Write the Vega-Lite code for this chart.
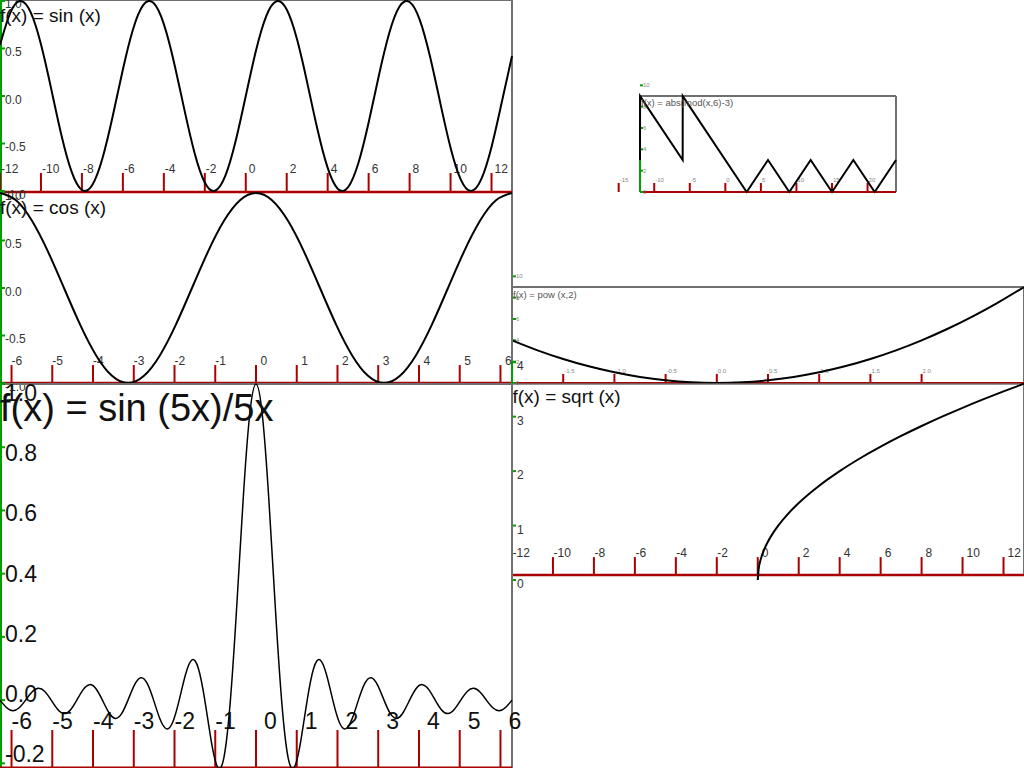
{
"$schema": "https://vega.github.io/schema/vega-lite/v6.json",
"width": 1024, "height": 768, "padding": 0, "autosize": {"type": "none"},
"background": "white",
"config": {"view": {"stroke": null}, "font": "Liberation Sans"},
"data": {"values": [{}]},
"datasets": {
"sin": [{"x":-12,"y":0.5366},{"x":-11.5,"y":0.8755},{"x":-11,"y":1.0},{"x":-10.5,"y":0.8797},{"x":-10,"y":0.544},{"x":-9.5,"y":0.0752},{"x":-9,"y":-0.4121},{"x":-8.5,"y":-0.7985},{"x":-8,"y":-0.9894},{"x":-7.5,"y":-0.938},{"x":-7,"y":-0.657},{"x":-6.5,"y":-0.2151},{"x":-6,"y":0.2794},{"x":-5.5,"y":0.7055},{"x":-5,"y":0.9589},{"x":-4.5,"y":0.9775},{"x":-4,"y":0.7568},{"x":-3.5,"y":0.3508},{"x":-3,"y":-0.1411},{"x":-2.5,"y":-0.5985},{"x":-2,"y":-0.9093},{"x":-1.5,"y":-0.9975},{"x":-1,"y":-0.8415},{"x":-0.5,"y":-0.4794},{"x":0,"y":0},{"x":0.5,"y":0.4794},{"x":1,"y":0.8415},{"x":1.5,"y":0.9975},{"x":2,"y":0.9093},{"x":2.5,"y":0.5985},{"x":3,"y":0.1411},{"x":3.5,"y":-0.3508},{"x":4,"y":-0.7568},{"x":4.5,"y":-0.9775},{"x":5,"y":-0.9589},{"x":5.5,"y":-0.7055},{"x":6,"y":-0.2794},{"x":6.5,"y":0.2151},{"x":7,"y":0.657},{"x":7.5,"y":0.938},{"x":8,"y":0.9894},{"x":8.5,"y":0.7985},{"x":9,"y":0.4121},{"x":9.5,"y":-0.0752},{"x":10,"y":-0.544},{"x":10.5,"y":-0.8797},{"x":11,"y":-1.0},{"x":11.5,"y":-0.8755},{"x":12,"y":-0.5366},{"x":12.5,"y":-0.0663},{"x":13,"y":0.4202}],
"cos": [{"x":-6.2832,"y":1},{"x":-5.8905,"y":0.9239},{"x":-5.4978,"y":0.7071},{"x":-5.1051,"y":0.3827},{"x":-4.7124,"y":0},{"x":-4.3197,"y":-0.3827},{"x":-3.927,"y":-0.7071},{"x":-3.5343,"y":-0.9239},{"x":-3.1416,"y":-1},{"x":-2.7489,"y":-0.9239},{"x":-2.3562,"y":-0.7071},{"x":-1.9635,"y":-0.3827},{"x":-1.5708,"y":0},{"x":-1.1781,"y":0.3827},{"x":-0.7854,"y":0.7071},{"x":-0.3927,"y":0.9239},{"x":0,"y":1},{"x":0.3927,"y":0.9239},{"x":0.7854,"y":0.7071},{"x":1.1781,"y":0.3827},{"x":1.5708,"y":0},{"x":1.9635,"y":-0.3827},{"x":2.3562,"y":-0.7071},{"x":2.7489,"y":-0.9239},{"x":3.1416,"y":-1},{"x":3.5343,"y":-0.9239},{"x":3.927,"y":-0.7071},{"x":4.3197,"y":-0.3827},{"x":4.7124,"y":0},{"x":5.1051,"y":0.3827},{"x":5.4978,"y":0.7071},{"x":5.8905,"y":0.9239},{"x":6.2832,"y":1}],
"sinc": [{"x":-6.2832,"y":0},{"x":-6.1261,"y":-0.0231},{"x":-5.969,"y":-0.0335},{"x":-5.8119,"y":-0.0243},{"x":-5.6549,"y":0},{"x":-5.4978,"y":0.0257},{"x":-5.3407,"y":0.0374},{"x":-5.1836,"y":0.0273},{"x":-5.0265,"y":0},{"x":-4.8695,"y":-0.029},{"x":-4.7124,"y":-0.0424},{"x":-4.5553,"y":-0.031},{"x":-4.3982,"y":0},{"x":-4.2412,"y":0.0333},{"x":-4.0841,"y":0.049},{"x":-3.927,"y":0.036},{"x":-3.7699,"y":0},{"x":-3.6128,"y":-0.0391},{"x":-3.4558,"y":-0.0579},{"x":-3.2987,"y":-0.0429},{"x":-3.1416,"y":0},{"x":-2.9845,"y":0.0474},{"x":-2.8274,"y":0.0707},{"x":-2.6704,"y":0.053},{"x":-2.5133,"y":0},{"x":-2.3562,"y":-0.06},{"x":-2.1991,"y":-0.0909},{"x":-2.042,"y":-0.0693},{"x":-1.885,"y":0},{"x":-1.7279,"y":0.0818},{"x":-1.5708,"y":0.1273},{"x":-1.4137,"y":0.1},{"x":-1.2566,"y":0},{"x":-1.0996,"y":-0.1286},{"x":-0.9425,"y":-0.2122},{"x":-0.7854,"y":-0.1801},{"x":-0.6283,"y":0},{"x":-0.4712,"y":0.3001},{"x":-0.3142,"y":0.6366},{"x":-0.1571,"y":0.9003},{"x":0,"y":1},{"x":0.1571,"y":0.9003},{"x":0.3142,"y":0.6366},{"x":0.4712,"y":0.3001},{"x":0.6283,"y":0},{"x":0.7854,"y":-0.1801},{"x":0.9425,"y":-0.2122},{"x":1.0996,"y":-0.1286},{"x":1.2566,"y":0},{"x":1.4137,"y":0.1},{"x":1.5708,"y":0.1273},{"x":1.7279,"y":0.0818},{"x":1.885,"y":0},{"x":2.042,"y":-0.0693},{"x":2.1991,"y":-0.0909},{"x":2.3562,"y":-0.06},{"x":2.5133,"y":0},{"x":2.6704,"y":0.053},{"x":2.8274,"y":0.0707},{"x":2.9845,"y":0.0474},{"x":3.1416,"y":0},{"x":3.2987,"y":-0.0429},{"x":3.4558,"y":-0.0579},{"x":3.6128,"y":-0.0391},{"x":3.7699,"y":0},{"x":3.927,"y":0.036},{"x":4.0841,"y":0.049},{"x":4.2412,"y":0.0333},{"x":4.3982,"y":0},{"x":4.5553,"y":-0.031},{"x":4.7124,"y":-0.0424},{"x":4.8695,"y":-0.029},{"x":5.0265,"y":0},{"x":5.1836,"y":0.0273},{"x":5.3407,"y":0.0374},{"x":5.4978,"y":0.0257},{"x":5.6549,"y":0},{"x":5.8119,"y":-0.0243},{"x":5.969,"y":-0.0335},{"x":6.1261,"y":-0.0231},{"x":6.2832,"y":0}],
"abs": [{"x":-12,"y":3},{"x":-11.99,"y":8.99},{"x":-6,"y":3},{"x":-5.99,"y":8.99},{"x":3,"y":0},{"x":6,"y":3},{"x":9,"y":0},{"x":12,"y":3},{"x":15,"y":0},{"x":18,"y":3},{"x":21,"y":0},{"x":24,"y":3}],
"pow": [{"x":-2,"y":4},{"x":-1.75,"y":3.0625},{"x":-1.5,"y":2.25},{"x":-1.25,"y":1.5625},{"x":-1,"y":1},{"x":-0.75,"y":0.5625},{"x":-0.5,"y":0.25},{"x":-0.25,"y":0.0625},{"x":0,"y":0},{"x":0.25,"y":0.0625},{"x":0.5,"y":0.25},{"x":0.75,"y":0.5625},{"x":1,"y":1},{"x":1.25,"y":1.5625},{"x":1.5,"y":2.25},{"x":1.75,"y":3.0625},{"x":2,"y":4},{"x":2.25,"y":5.0625},{"x":2.5,"y":6.25},{"x":2.75,"y":7.5625},{"x":3,"y":9}],
"sqrt": [{"x":0,"y":0},{"x":0.05,"y":0.2236},{"x":0.1,"y":0.3162},{"x":0.2,"y":0.4472},{"x":0.35,"y":0.5916},{"x":0.5,"y":0.7071},{"x":0.75,"y":0.866},{"x":1,"y":1},{"x":1.5,"y":1.2247},{"x":2,"y":1.4142},{"x":3,"y":1.7321},{"x":4,"y":2},{"x":5,"y":2.2361},{"x":6,"y":2.4495},{"x":7,"y":2.6458},{"x":8,"y":2.8284},{"x":9,"y":3},{"x":10,"y":3.1623},{"x":11,"y":3.3166},{"x":12,"y":3.4641},{"x":13,"y":3.6056}],
"xt12": [{"v":-12,"label":"-12"},{"v":-10,"label":"-10"},{"v":-8,"label":"-8"},{"v":-6,"label":"-6"},{"v":-4,"label":"-4"},{"v":-2,"label":"-2"},{"v":0,"label":"0"},{"v":2,"label":"2"},{"v":4,"label":"4"},{"v":6,"label":"6"},{"v":8,"label":"8"},{"v":10,"label":"10"},{"v":12,"label":"12"}],
"xt6": [{"v":-6,"label":"-6"},{"v":-5,"label":"-5"},{"v":-4,"label":"-4"},{"v":-3,"label":"-3"},{"v":-2,"label":"-2"},{"v":-1,"label":"-1"},{"v":0,"label":"0"},{"v":1,"label":"1"},{"v":2,"label":"2"},{"v":3,"label":"3"},{"v":4,"label":"4"},{"v":5,"label":"5"},{"v":6,"label":"6"}],
"yt1": [{"v":-1,"label":"-1.0"},{"v":-0.5,"label":"-0.5"},{"v":0,"label":"0.0"},{"v":0.5,"label":"0.5"},{"v":1,"label":"1.0"}],
"ytSinc": [{"v":-0.2,"label":"-0.2"},{"v":0,"label":"0.0"},{"v":0.2,"label":"0.2"},{"v":0.4,"label":"0.4"},{"v":0.6,"label":"0.6"},{"v":0.8,"label":"0.8"},{"v":1,"label":"1.0"}],
"xtAbs": [{"v":-15,"label":"-15"},{"v":-10,"label":"-10"},{"v":-5,"label":"-5"},{"v":0,"label":"0"},{"v":5,"label":"5"},{"v":10,"label":"10"},{"v":15,"label":"15"},{"v":20,"label":"20"}],
"yt10": [{"v":0,"label":"0"},{"v":2,"label":"2"},{"v":4,"label":"4"},{"v":6,"label":"6"},{"v":8,"label":"8"},{"v":10,"label":"10"}],
"xtPow": [{"v":-1.5,"label":"-1.5"},{"v":-1,"label":"-1.0"},{"v":-0.5,"label":"-0.5"},{"v":0,"label":"0.0"},{"v":0.5,"label":"0.5"},{"v":1,"label":"1.0"},{"v":1.5,"label":"1.5"},{"v":2,"label":"2.0"}],
"ytSqrt": [{"v":0,"label":"0"},{"v":1,"label":"1"},{"v":2,"label":"2"},{"v":3,"label":"3"},{"v":4,"label":"4"}]
},
"resolve": {"scale": {"x": "independent", "y": "independent"}},
"layer": [
{"mark":{"type":"rule","color":"#707070","strokeWidth":2},"encoding":{"x":{"datum":-12,"type":"quantitative","scale":{"domain":[-12,24],"range":[640,896]},"axis":null},"x2":{"datum":24},"y":{"datum":9,"type":"quantitative","scale":{"domain":[0,9],"range":[192,96]},"axis":null}}},
{"mark":{"type":"rule","color":"#707070","strokeWidth":2},"encoding":{"x":{"datum":24,"type":"quantitative","scale":{"domain":[-12,24],"range":[640,896]},"axis":null},"y":{"datum":0,"type":"quantitative","scale":{"domain":[0,9],"range":[192,96]},"axis":null},"y2":{"datum":9}}},
{"mark":{"type":"rule","color":"#00a000","strokeWidth":2},"encoding":{"x":{"datum":-12,"type":"quantitative","scale":{"domain":[-12,24],"range":[640,896]},"axis":null},"y":{"datum":0,"type":"quantitative","scale":{"domain":[0,9],"range":[192,96]},"axis":null},"y2":{"datum":9}}},
{"mark":{"type":"rule","color":"#aa0000","strokeWidth":2},"encoding":{"x":{"datum":-12,"type":"quantitative","scale":{"domain":[-12,24],"range":[640,896]},"axis":null},"x2":{"datum":24},"y":{"datum":0,"type":"quantitative","scale":{"domain":[0,9],"range":[192,96]},"axis":null}}},
{"data":{"name":"xtAbs"},"mark":{"type":"rule","color":"#aa0000","strokeWidth":2,"y2Offset":-9},"encoding":{"x":{"field":"v","type":"quantitative","scale":{"domain":[-12,24],"range":[640,896]},"axis":null},"y":{"datum":0,"type":"quantitative","scale":{"domain":[0,9],"range":[192,96]},"axis":null},"y2":{"datum":0}}},
{"data":{"name":"xtAbs"},"mark":{"type":"text","align":"left","baseline":"alphabetic","dx":1,"dy":-10,"fontSize":6,"color":"#888888"},"encoding":{"x":{"field":"v","type":"quantitative","scale":{"domain":[-12,24],"range":[640,896]},"axis":null},"y":{"datum":0,"type":"quantitative","scale":{"domain":[0,9],"range":[192,96]},"axis":null},"text":{"field":"label"}}},
{"data":{"name":"yt10"},"mark":{"type":"rule","color":"#00a000","strokeWidth":2,"x2Offset":3},"encoding":{"y":{"field":"v","type":"quantitative","scale":{"domain":[0,9],"range":[192,96]},"axis":null},"x":{"datum":-12,"type":"quantitative","scale":{"domain":[-12,24],"range":[640,896]},"axis":null},"x2":{"datum":-12}}},
{"data":{"name":"yt10"},"mark":{"type":"text","align":"left","baseline":"alphabetic","dx":3,"dy":2,"fontSize":6,"color":"#888888"},"encoding":{"y":{"field":"v","type":"quantitative","scale":{"domain":[0,9],"range":[192,96]},"axis":null},"x":{"datum":-12,"type":"quantitative","scale":{"domain":[-12,24],"range":[640,896]},"axis":null},"text":{"field":"label"}}},
{"data":{"name":"abs"},"mark":{"type":"line","color":"black","strokeWidth":2},"encoding":{"x":{"field":"x","type":"quantitative","scale":{"domain":[-12,24],"range":[640,896]},"axis":null},"y":{"field":"y","type":"quantitative","scale":{"domain":[0,9],"range":[192,96]},"axis":null}}},
{"mark":{"type":"text","align":"left","baseline":"alphabetic","dx":1,"dy":10,"fontSize":9.5,"color":"#555555"},"encoding":{"x":{"datum":-12,"type":"quantitative","scale":{"domain":[-12,24],"range":[640,896]},"axis":null},"y":{"datum":9,"type":"quantitative","scale":{"domain":[0,9],"range":[192,96]},"axis":null},"text":{"value":"f(x) = abs(mod(x,6)-3)"}}},

{"mark":{"type":"rule","color":"#707070","strokeWidth":2},"encoding":{"x":{"datum":-2,"type":"quantitative","scale":{"domain":[-2,3],"range":[512,1024]},"axis":null},"x2":{"datum":3},"y":{"datum":9,"type":"quantitative","scale":{"domain":[0,9],"range":[383,287]},"axis":null}}},
{"mark":{"type":"rule","color":"#707070","strokeWidth":2},"encoding":{"x":{"datum":3,"type":"quantitative","scale":{"domain":[-2,3],"range":[512,1024]},"axis":null},"y":{"datum":0,"type":"quantitative","scale":{"domain":[0,9],"range":[383,287]},"axis":null},"y2":{"datum":9}}},
{"mark":{"type":"rule","color":"#00a000","strokeWidth":2},"encoding":{"x":{"datum":-2,"type":"quantitative","scale":{"domain":[-2,3],"range":[512,1024]},"axis":null},"y":{"datum":0,"type":"quantitative","scale":{"domain":[0,9],"range":[383,287]},"axis":null},"y2":{"datum":9}}},
{"mark":{"type":"rule","color":"#aa0000","strokeWidth":2},"encoding":{"x":{"datum":-2,"type":"quantitative","scale":{"domain":[-2,3],"range":[512,1024]},"axis":null},"x2":{"datum":3},"y":{"datum":0,"type":"quantitative","scale":{"domain":[0,9],"range":[383,287]},"axis":null}}},
{"data":{"name":"xtPow"},"mark":{"type":"rule","color":"#aa0000","strokeWidth":2,"y2Offset":-9},"encoding":{"x":{"field":"v","type":"quantitative","scale":{"domain":[-2,3],"range":[512,1024]},"axis":null},"y":{"datum":0,"type":"quantitative","scale":{"domain":[0,9],"range":[383,287]},"axis":null},"y2":{"datum":0}}},
{"data":{"name":"xtPow"},"mark":{"type":"text","align":"left","baseline":"alphabetic","dx":1,"dy":-10,"fontSize":6,"color":"#888888"},"encoding":{"x":{"field":"v","type":"quantitative","scale":{"domain":[-2,3],"range":[512,1024]},"axis":null},"y":{"datum":0,"type":"quantitative","scale":{"domain":[0,9],"range":[383,287]},"axis":null},"text":{"field":"label"}}},
{"data":{"name":"yt10"},"mark":{"type":"rule","color":"#00a000","strokeWidth":2,"x2Offset":4},"encoding":{"y":{"field":"v","type":"quantitative","scale":{"domain":[0,9],"range":[383,287]},"axis":null},"x":{"datum":-2,"type":"quantitative","scale":{"domain":[-2,3],"range":[512,1024]},"axis":null},"x2":{"datum":-2}}},
{"data":{"name":"yt10"},"mark":{"type":"text","align":"left","baseline":"alphabetic","dx":4,"dy":2,"fontSize":6,"color":"#888888"},"encoding":{"y":{"field":"v","type":"quantitative","scale":{"domain":[0,9],"range":[383,287]},"axis":null},"x":{"datum":-2,"type":"quantitative","scale":{"domain":[-2,3],"range":[512,1024]},"axis":null},"text":{"field":"label"}}},
{"data":{"name":"pow"},"mark":{"type":"line","color":"black","strokeWidth":2,"interpolate":"natural"},"encoding":{"x":{"field":"x","type":"quantitative","scale":{"domain":[-2,3],"range":[512,1024]},"axis":null},"y":{"field":"y","type":"quantitative","scale":{"domain":[0,9],"range":[383,287]},"axis":null}}},
{"mark":{"type":"text","align":"left","baseline":"alphabetic","dx":1,"dy":11,"fontSize":9.5,"color":"#555555"},"encoding":{"x":{"datum":-2,"type":"quantitative","scale":{"domain":[-2,3],"range":[512,1024]},"axis":null},"y":{"datum":9,"type":"quantitative","scale":{"domain":[0,9],"range":[383,287]},"axis":null},"text":{"value":"f(x) = pow (x,2)"}}},

{"mark":{"type":"rule","color":"#707070","strokeWidth":2},"encoding":{"x":{"datum":-12,"type":"quantitative","scale":{"domain":[-12,13],"range":[0,512]},"axis":null},"x2":{"datum":13},"y":{"datum":1.01,"type":"quantitative","scale":{"domain":[-1.01,1.01],"range":[192,0]},"axis":null}}},
{"mark":{"type":"rule","color":"#707070","strokeWidth":2},"encoding":{"x":{"datum":13,"type":"quantitative","scale":{"domain":[-12,13],"range":[0,512]},"axis":null},"y":{"datum":-1.01,"type":"quantitative","scale":{"domain":[-1.01,1.01],"range":[192,0]},"axis":null},"y2":{"datum":1.01}}},
{"mark":{"type":"rule","color":"#00a000","strokeWidth":4},"encoding":{"x":{"datum":-12,"type":"quantitative","scale":{"domain":[-12,13],"range":[0,512]},"axis":null},"y":{"datum":-1.01,"type":"quantitative","scale":{"domain":[-1.01,1.01],"range":[192,0]},"axis":null},"y2":{"datum":1.01}}},
{"mark":{"type":"rule","color":"#aa0000","strokeWidth":2.6},"encoding":{"x":{"datum":-12,"type":"quantitative","scale":{"domain":[-12,13],"range":[0,512]},"axis":null},"x2":{"datum":13},"y":{"datum":-1.01,"type":"quantitative","scale":{"domain":[-1.01,1.01],"range":[192,0]},"axis":null}}},
{"data":{"name":"xt12"},"mark":{"type":"rule","color":"#aa0000","strokeWidth":2,"y2Offset":-19},"encoding":{"x":{"field":"v","type":"quantitative","scale":{"domain":[-12,13],"range":[0,512]},"axis":null},"y":{"datum":-1.01,"type":"quantitative","scale":{"domain":[-1.01,1.01],"range":[192,0]},"axis":null},"y2":{"datum":-1.01}}},
{"data":{"name":"xt12"},"transform":[{"filter":"datum.v < 0"}],"mark":{"type":"text","align":"left","baseline":"alphabetic","dx":1,"dy":-19.5,"fontSize":12,"color":"#333333"},"encoding":{"x":{"field":"v","type":"quantitative","scale":{"domain":[-12,13],"range":[0,512]},"axis":null},"y":{"datum":-1.01,"type":"quantitative","scale":{"domain":[-1.01,1.01],"range":[192,0]},"axis":null},"text":{"field":"label"}}},
{"data":{"name":"xt12"},"transform":[{"filter":"datum.v >= 0"}],"mark":{"type":"text","align":"left","baseline":"alphabetic","dx":3,"dy":-19.5,"fontSize":12,"color":"#333333"},"encoding":{"x":{"field":"v","type":"quantitative","scale":{"domain":[-12,13],"range":[0,512]},"axis":null},"y":{"datum":-1.01,"type":"quantitative","scale":{"domain":[-1.01,1.01],"range":[192,0]},"axis":null},"text":{"field":"label"}}},
{"data":{"name":"yt1"},"mark":{"type":"rule","color":"#00a000","strokeWidth":2,"x2Offset":5},"encoding":{"y":{"field":"v","type":"quantitative","scale":{"domain":[-1.01,1.01],"range":[192,0]},"axis":null},"x":{"datum":-12,"type":"quantitative","scale":{"domain":[-12,13],"range":[0,512]},"axis":null},"x2":{"datum":-12}}},
{"data":{"name":"yt1"},"mark":{"type":"text","align":"left","baseline":"alphabetic","dx":5,"dy":7.5,"fontSize":12,"color":"#333333"},"encoding":{"y":{"field":"v","type":"quantitative","scale":{"domain":[-1.01,1.01],"range":[192,0]},"axis":null},"x":{"datum":-12,"type":"quantitative","scale":{"domain":[-12,13],"range":[0,512]},"axis":null},"text":{"field":"label"}}},
{"data":{"name":"sin"},"mark":{"type":"line","color":"black","strokeWidth":2,"interpolate":"natural"},"encoding":{"x":{"field":"x","type":"quantitative","scale":{"domain":[-12,13],"range":[0,512]},"axis":null},"y":{"field":"y","type":"quantitative","scale":{"domain":[-1.01,1.01],"range":[192,0]},"axis":null}}},
{"mark":{"type":"text","align":"left","baseline":"alphabetic","dx":0,"dy":22,"fontSize":19,"color":"#111111"},"encoding":{"x":{"datum":-12,"type":"quantitative","scale":{"domain":[-12,13],"range":[0,512]},"axis":null},"y":{"datum":1.01,"type":"quantitative","scale":{"domain":[-1.01,1.01],"range":[192,0]},"axis":null},"text":{"value":"f(x) = sin (x)"}}},

{"mark":{"type":"rule","color":"#707070","strokeWidth":2},"encoding":{"x":{"datum":6.2832,"type":"quantitative","scale":{"domain":[-6.2832,6.2832],"range":[0,512]},"axis":null},"y":{"datum":-1.01,"type":"quantitative","scale":{"domain":[-1.01,1.01],"range":[384,192]},"axis":null},"y2":{"datum":1.01}}},
{"mark":{"type":"rule","color":"#00a000","strokeWidth":4},"encoding":{"x":{"datum":-6.2832,"type":"quantitative","scale":{"domain":[-6.2832,6.2832],"range":[0,512]},"axis":null},"y":{"datum":-1.01,"type":"quantitative","scale":{"domain":[-1.01,1.01],"range":[384,192]},"axis":null},"y2":{"datum":1.01}}},
{"mark":{"type":"rule","color":"#aa0000","strokeWidth":2.6},"encoding":{"x":{"datum":-6.2832,"type":"quantitative","scale":{"domain":[-6.2832,6.2832],"range":[0,512]},"axis":null},"x2":{"datum":6.2832},"y":{"datum":-1.0,"type":"quantitative","scale":{"domain":[-1.01,1.01],"range":[384,192]},"axis":null}}},
{"data":{"name":"xt6"},"mark":{"type":"rule","color":"#aa0000","strokeWidth":2,"y2Offset":-18},"encoding":{"x":{"field":"v","type":"quantitative","scale":{"domain":[-6.2832,6.2832],"range":[0,512]},"axis":null},"y":{"datum":-1.0,"type":"quantitative","scale":{"domain":[-1.01,1.01],"range":[384,192]},"axis":null},"y2":{"datum":-1.0}}},
{"data":{"name":"xt6"},"transform":[{"filter":"datum.v < 0"}],"mark":{"type":"text","align":"left","baseline":"alphabetic","dx":0,"dy":-18.5,"fontSize":12,"color":"#333333"},"encoding":{"x":{"field":"v","type":"quantitative","scale":{"domain":[-6.2832,6.2832],"range":[0,512]},"axis":null},"y":{"datum":-1.0,"type":"quantitative","scale":{"domain":[-1.01,1.01],"range":[384,192]},"axis":null},"text":{"field":"label"}}},
{"data":{"name":"xt6"},"transform":[{"filter":"datum.v >= 0"}],"mark":{"type":"text","align":"left","baseline":"alphabetic","dx":4.5,"dy":-18.5,"fontSize":12,"color":"#333333"},"encoding":{"x":{"field":"v","type":"quantitative","scale":{"domain":[-6.2832,6.2832],"range":[0,512]},"axis":null},"y":{"datum":-1.0,"type":"quantitative","scale":{"domain":[-1.01,1.01],"range":[384,192]},"axis":null},"text":{"field":"label"}}},
{"data":{"name":"yt1"},"mark":{"type":"rule","color":"#00a000","strokeWidth":2,"x2Offset":5},"encoding":{"y":{"field":"v","type":"quantitative","scale":{"domain":[-1.01,1.01],"range":[384,192]},"axis":null},"x":{"datum":-6.2832,"type":"quantitative","scale":{"domain":[-6.2832,6.2832],"range":[0,512]},"axis":null},"x2":{"datum":-6.2832}}},
{"data":{"name":"yt1"},"mark":{"type":"text","align":"left","baseline":"alphabetic","dx":5,"dy":7.5,"fontSize":12,"color":"#333333"},"encoding":{"y":{"field":"v","type":"quantitative","scale":{"domain":[-1.01,1.01],"range":[384,192]},"axis":null},"x":{"datum":-6.2832,"type":"quantitative","scale":{"domain":[-6.2832,6.2832],"range":[0,512]},"axis":null},"text":{"field":"label"}}},
{"data":{"name":"cos"},"mark":{"type":"line","color":"black","strokeWidth":2,"interpolate":"natural"},"encoding":{"x":{"field":"x","type":"quantitative","scale":{"domain":[-6.2832,6.2832],"range":[0,512]},"axis":null},"y":{"field":"y","type":"quantitative","scale":{"domain":[-1.01,1.01],"range":[384,192]},"axis":null}}},
{"mark":{"type":"text","align":"left","baseline":"alphabetic","dx":0,"dy":22,"fontSize":19,"color":"#111111"},"encoding":{"x":{"datum":-6.2832,"type":"quantitative","scale":{"domain":[-6.2832,6.2832],"range":[0,512]},"axis":null},"y":{"datum":1.01,"type":"quantitative","scale":{"domain":[-1.01,1.01],"range":[384,192]},"axis":null},"text":{"value":"f(x) = cos (x)"}}},

{"mark":{"type":"rule","color":"#707070","strokeWidth":1.5},"encoding":{"x":{"datum":-12,"type":"quantitative","scale":{"domain":[-12,13],"range":[512,1024]},"axis":null},"x2":{"datum":13},"y":{"datum":3.6,"type":"quantitative","scale":{"domain":[0,3.6],"range":[580,384]},"axis":null}}},
{"mark":{"type":"rule","color":"#707070","strokeWidth":2},"encoding":{"x":{"datum":13,"type":"quantitative","scale":{"domain":[-12,13],"range":[512,1024]},"axis":null},"y":{"datum":0.09,"type":"quantitative","scale":{"domain":[0,3.6],"range":[580,384]},"axis":null},"y2":{"datum":3.6}}},
{"mark":{"type":"rule","color":"#00a000","strokeWidth":2},"encoding":{"x":{"datum":-12,"type":"quantitative","scale":{"domain":[-12,13],"range":[512,1024]},"axis":null},"y":{"datum":0,"type":"quantitative","scale":{"domain":[0,3.6],"range":[580,384]},"axis":null},"y2":{"datum":4}}},
{"mark":{"type":"rule","color":"#aa0000","strokeWidth":2.5},"encoding":{"x":{"datum":-12,"type":"quantitative","scale":{"domain":[-12,13],"range":[512,1024]},"axis":null},"x2":{"datum":13},"y":{"datum":0.09,"type":"quantitative","scale":{"domain":[0,3.6],"range":[580,384]},"axis":null}}},
{"data":{"name":"xt12"},"mark":{"type":"rule","color":"#aa0000","strokeWidth":2,"y2Offset":-18},"encoding":{"x":{"field":"v","type":"quantitative","scale":{"domain":[-12,13],"range":[512,1024]},"axis":null},"y":{"datum":0.09,"type":"quantitative","scale":{"domain":[0,3.6],"range":[580,384]},"axis":null},"y2":{"datum":0.09}}},
{"data":{"name":"xt12"},"transform":[{"filter":"datum.v < 0"}],"mark":{"type":"text","align":"left","baseline":"alphabetic","dx":0.5,"dy":-18.5,"fontSize":12,"color":"#333333"},"encoding":{"x":{"field":"v","type":"quantitative","scale":{"domain":[-12,13],"range":[512,1024]},"axis":null},"y":{"datum":0.09,"type":"quantitative","scale":{"domain":[0,3.6],"range":[580,384]},"axis":null},"text":{"field":"label"}}},
{"data":{"name":"xt12"},"transform":[{"filter":"datum.v >= 0"}],"mark":{"type":"text","align":"left","baseline":"alphabetic","dx":4,"dy":-18.5,"fontSize":12,"color":"#333333"},"encoding":{"x":{"field":"v","type":"quantitative","scale":{"domain":[-12,13],"range":[512,1024]},"axis":null},"y":{"datum":0.09,"type":"quantitative","scale":{"domain":[0,3.6],"range":[580,384]},"axis":null},"text":{"field":"label"}}},
{"data":{"name":"ytSqrt"},"mark":{"type":"rule","color":"#00a000","strokeWidth":2,"x2Offset":4},"encoding":{"y":{"field":"v","type":"quantitative","scale":{"domain":[0,3.6],"range":[580,384]},"axis":null},"x":{"datum":-12,"type":"quantitative","scale":{"domain":[-12,13],"range":[512,1024]},"axis":null},"x2":{"datum":-12}}},
{"data":{"name":"ytSqrt"},"mark":{"type":"text","align":"left","baseline":"alphabetic","dx":5,"dy":8,"fontSize":12,"color":"#333333"},"encoding":{"y":{"field":"v","type":"quantitative","scale":{"domain":[0,3.6],"range":[580,384]},"axis":null},"x":{"datum":-12,"type":"quantitative","scale":{"domain":[-12,13],"range":[512,1024]},"axis":null},"text":{"field":"label"}}},
{"data":{"name":"sqrt"},"mark":{"type":"line","color":"black","strokeWidth":2,"interpolate":"monotone"},"encoding":{"x":{"field":"x","type":"quantitative","scale":{"domain":[-12,13],"range":[512,1024]},"axis":null},"y":{"field":"y","type":"quantitative","scale":{"domain":[0,3.6],"range":[580,384]},"axis":null}}},
{"mark":{"type":"text","align":"left","baseline":"alphabetic","dx":0.5,"dy":19,"fontSize":19,"color":"#111111"},"encoding":{"x":{"datum":-12,"type":"quantitative","scale":{"domain":[-12,13],"range":[512,1024]},"axis":null},"y":{"datum":3.6,"type":"quantitative","scale":{"domain":[0,3.6],"range":[580,384]},"axis":null},"text":{"value":"f(x) = sqrt (x)"}}},

{"mark":{"type":"rule","color":"#707070","strokeWidth":2},"encoding":{"x":{"datum":-6.2832,"type":"quantitative","scale":{"domain":[-6.2832,6.2832],"range":[0,512]},"axis":null},"x2":{"datum":6.2832},"y":{"datum":1,"type":"quantitative","scale":{"domain":[-0.2147,1],"range":[768,384]},"axis":null}}},
{"mark":{"type":"rule","color":"#707070","strokeWidth":2},"encoding":{"x":{"datum":6.2832,"type":"quantitative","scale":{"domain":[-6.2832,6.2832],"range":[0,512]},"axis":null},"y":{"datum":-0.2147,"type":"quantitative","scale":{"domain":[-0.2147,1],"range":[768,384]},"axis":null},"y2":{"datum":1}}},
{"mark":{"type":"rule","color":"#00a000","strokeWidth":4},"encoding":{"x":{"datum":-6.2832,"type":"quantitative","scale":{"domain":[-6.2832,6.2832],"range":[0,512]},"axis":null},"y":{"datum":-0.2147,"type":"quantitative","scale":{"domain":[-0.2147,1],"range":[768,384]},"axis":null},"y2":{"datum":1}}},
{"mark":{"type":"rule","color":"#aa0000","strokeWidth":3},"encoding":{"x":{"datum":-6.2832,"type":"quantitative","scale":{"domain":[-6.2832,6.2832],"range":[0,512]},"axis":null},"x2":{"datum":6.2832},"y":{"datum":-0.2147,"type":"quantitative","scale":{"domain":[-0.2147,1],"range":[768,384]},"axis":null}}},
{"data":{"name":"xt6"},"mark":{"type":"rule","color":"#aa0000","strokeWidth":2,"y2Offset":-38},"encoding":{"x":{"field":"v","type":"quantitative","scale":{"domain":[-6.2832,6.2832],"range":[0,512]},"axis":null},"y":{"datum":-0.2147,"type":"quantitative","scale":{"domain":[-0.2147,1],"range":[768,384]},"axis":null},"y2":{"datum":-0.2147}}},
{"data":{"name":"xt6"},"transform":[{"filter":"datum.v < 0"}],"mark":{"type":"text","align":"left","baseline":"alphabetic","dx":0,"dy":-39.5,"fontSize":23,"color":"#111111"},"encoding":{"x":{"field":"v","type":"quantitative","scale":{"domain":[-6.2832,6.2832],"range":[0,512]},"axis":null},"y":{"datum":-0.2147,"type":"quantitative","scale":{"domain":[-0.2147,1],"range":[768,384]},"axis":null},"text":{"field":"label"}}},
{"data":{"name":"xt6"},"transform":[{"filter":"datum.v >= 0"}],"mark":{"type":"text","align":"left","baseline":"alphabetic","dx":8,"dy":-39.5,"fontSize":23,"color":"#111111"},"encoding":{"x":{"field":"v","type":"quantitative","scale":{"domain":[-6.2832,6.2832],"range":[0,512]},"axis":null},"y":{"datum":-0.2147,"type":"quantitative","scale":{"domain":[-0.2147,1],"range":[768,384]},"axis":null},"text":{"field":"label"}}},
{"data":{"name":"ytSinc"},"mark":{"type":"rule","color":"#00a000","strokeWidth":2,"x2Offset":5},"encoding":{"y":{"field":"v","type":"quantitative","scale":{"domain":[-0.2147,1],"range":[768,384]},"axis":null},"x":{"datum":-6.2832,"type":"quantitative","scale":{"domain":[-6.2832,6.2832],"range":[0,512]},"axis":null},"x2":{"datum":-6.2832}}},
{"data":{"name":"ytSinc"},"mark":{"type":"text","align":"left","baseline":"alphabetic","dx":5,"dy":8,"fontSize":23,"color":"#111111"},"encoding":{"y":{"field":"v","type":"quantitative","scale":{"domain":[-0.2,1],"range":[754,393]},"axis":null},"x":{"datum":-6.2832,"type":"quantitative","scale":{"domain":[-6.2832,6.2832],"range":[0,512]},"axis":null},"text":{"field":"label"}}},
{"data":{"name":"sinc"},"mark":{"type":"line","color":"black","strokeWidth":1.5,"interpolate":"natural"},"encoding":{"x":{"field":"x","type":"quantitative","scale":{"domain":[-6.2832,6.2832],"range":[0,512]},"axis":null},"y":{"field":"y","type":"quantitative","scale":{"domain":[-0.2147,1],"range":[768,384]},"axis":null}}},
{"mark":{"type":"text","align":"left","baseline":"alphabetic","dx":0,"dy":37,"fontSize":38,"color":"#111111"},"encoding":{"x":{"datum":-6.2832,"type":"quantitative","scale":{"domain":[-6.2832,6.2832],"range":[0,512]},"axis":null},"y":{"datum":1,"type":"quantitative","scale":{"domain":[-0.2147,1],"range":[768,384]},"axis":null},"text":{"value":"f(x) = sin (5x)/5x"}}}
]
}
